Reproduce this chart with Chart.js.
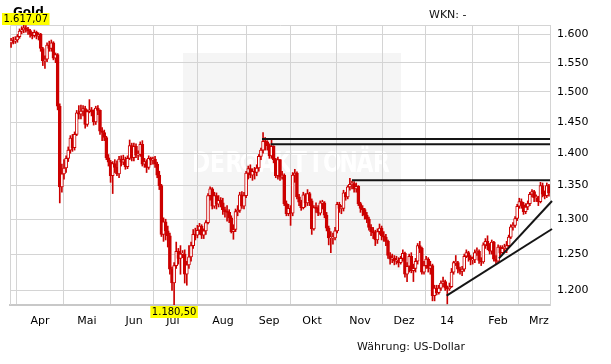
<!DOCTYPE html>
<html><head><meta charset="utf-8">
<script src="https://cdn.jsdelivr.net/npm/chart.js@4.4.0/dist/chart.umd.min.js"></script>
<style>html,body{margin:0;padding:0;background:#fff;overflow:hidden}canvas{display:block}</style>
</head><body>
<canvas id="c" width="611" height="364"></canvas>
<script>
const titleText = 'Gold';
const wknText = 'WKN: -';
const currencyText = 'Währung: US-Dollar';
const watermarkChars = ['D','E','R','','A','K','T','I','O','N','Ä','R'];
const firstOpen = 1585;
const closes = [
 1590,1588,1590,1596,1606,1608,1612,1610,1607,1600,1598,1604,1597,
 1600,1575,1553,1556,1581,1575,1585,1558,1564,1476,1348,1368,1377,1392,1405,1424,1409,1430,1465,1463,1468,1472,
 1446,1467,1470,1468,1450,1473,1469,1435,1433,1425,1393,1386,1365,1384,1378,1368,1391,1386,1390,1379,1392,1412,1393,
 1411,1397,1398,1414,1383,1387,1378,1392,1389,1391,1383,1366,1350,1278,1296,1283,1276,1229,1210,1234,
 1254,1244,1250,1250,1222,1235,1246,1262,1278,1277,1284,1290,1277,1283,1295,1335,1345,1319,1335,1322,1328,1324,1314,
 1311,1310,1302,1282,1285,1311,1313,1336,1319,1335,1369,1376,1366,1372,1370,1377,1395,1405,1419,1418,1412,1396,
 1411,1390,1365,1390,1363,1366,1323,1308,1316,1309,1366,1369,1333,1325,1317,1336,1324,1338,1327,
 1286,1317,1316,1309,1324,1324,1306,1287,1273,1273,1273,1283,1322,1316,1316,1339,1333,1348,1352,1353,1345,1349,1323,
 1316,1314,1306,1300,1288,1282,1280,1270,1282,1287,1276,1274,1268,1248,1243,1244,1240,1241,1238,1244,1251,
 1222,1233,1247,1227,1230,1240,1262,1258,1225,1234,1243,1230,1234,1193,1203,1197,1203,1210,1212,1203,1202,
 1205,1225,1238,1238,1229,1226,1229,1247,1252,1246,1242,1242,1252,1254,1241,1239,1263,1268,1262,1254,1267,1243,1240,
 1260,1252,1258,1258,1262,1274,1289,1291,1301,1319,1326,1321,1311,1318,1323,1337,1341,1332,1332,1326,
 1350,1337,1335,1350,1339
];
const highs = [
 1593,1595,1596,1600,1610,1614,1617.07,1616,1613,1609,1604,1608,1606,
 1603,1602,1577,1562,1585,1588,1590,1587,1567,1566,1480,1383,1390,1396,1410,1428,1430,1434,1469,1477,1478,1477,
 1476,1470,1487,1474,1470,1476,1477,1470,1441,1437,1427,1398,1389,1387,1390,1388,1395,1396,1397,1394,1396,1421,1416,
 1416,1415,1404,1418,1420,1392,1390,1396,1394,1394,1395,1386,1372,1352,1302,1300,1290,1280,1232,1238,
 1267,1258,1262,1255,1256,1240,1262,1267,1285,1287,1291,1294,1292,1286,1298,1338,1348,1347,1340,1339,1335,1332,1331,
 1318,1320,1314,1305,1292,1315,1320,1340,1341,1340,1372,1380,1382,1376,1378,1382,1398,1408,1433,1425,1420,1415,
 1421,1412,1392,1394,1390,1372,1368,1327,1322,1320,1370,1375,1371,1337,1328,1340,1338,1344,1340,
 1330,1320,1324,1320,1327,1328,1326,1310,1290,1282,1280,1288,1325,1325,1320,1343,1340,1350,1361,1357,1356,1354,1350,
 1325,1320,1316,1310,1303,1292,1288,1284,1286,1293,1290,1282,1278,1270,1252,1250,1248,1247,1245,1247,1256,
 1253,1238,1250,1252,1236,1244,1265,1268,1260,1240,1247,1245,1240,1236,1207,1207,1207,1213,1218,1214,1206,
 1210,1230,1240,1248,1240,1232,1233,1250,1256,1254,1248,1246,1256,1259,1256,1245,1266,1272,1276,1265,1270,1268,1248,
 1263,1262,1262,1264,1268,1277,1292,1295,1304,1322,1331,1330,1325,1323,1327,1340,1344,1343,1336,1334,
 1355,1354,1342,1354,1352
];
const lows = [
 1577,1583,1584,1586,1593,1601,1603,1604,1600,1595,1592,1595,1592,
 1590,1570,1545,1540,1552,1570,1570,1555,1550,1470,1324,1340,1360,1370,1387,1400,1403,1405,1428,1455,1455,1460,
 1440,1443,1465,1460,1445,1446,1462,1430,1420,1420,1390,1380,1355,1338,1370,1365,1362,1380,1382,1375,1376,1390,1388,
 1388,1393,1390,1395,1380,1378,1370,1375,1382,1383,1378,1362,1344,1275,1268,1270,1260,1222,1200,1180.5,
 1230,1236,1222,1245,1210,1207,1230,1240,1258,1270,1273,1278,1272,1272,1278,1293,1328,1315,1316,1315,1318,1318,1307,
 1303,1297,1295,1280,1271,1282,1305,1310,1316,1315,1332,1360,1362,1358,1360,1365,1372,1390,1400,1405,1405,1392,
 1392,1385,1362,1360,1358,1360,1320,1305,1305,1291,1305,1355,1330,1320,1313,1315,1318,1320,1320,
 1278,1284,1310,1305,1306,1315,1302,1283,1263,1252,1264,1270,1280,1310,1308,1312,1328,1330,1343,1345,1340,1340,1320,
 1310,1305,1300,1295,1284,1276,1272,1262,1265,1278,1270,1268,1262,1244,1236,1238,1235,1236,1232,1236,1240,
 1218,1212,1225,1224,1212,1225,1236,1252,1222,1222,1230,1225,1222,1186,1186,1194,1195,1200,1205,1200,1182,
 1200,1204,1222,1234,1224,1222,1220,1226,1245,1240,1235,1236,1238,1248,1237,1234,1237,1258,1256,1250,1250,1240,1236,
 1238,1248,1250,1252,1252,1260,1272,1284,1288,1298,1316,1316,1307,1308,1314,1320,1333,1326,1326,1320,
 1324,1333,1330,1332,1334
];
const monthLabels = ['Apr','Mai','Jun','Jul','Aug','Sep','Okt','Nov','Dez','14','Feb','Mrz'];
const monthTickIndex = [13.67,35.86,58.06,76.47,100.08,121.81,142.12,164.79,185.56,205.87,229.94,249.3];
const yTickValues = [1200,1250,1300,1350,1400,1450,1500,1550,1600];
const resistanceFrom = [118.5,122.6,161.0];
const resistanceValue = [1422.6,1414.2,1358.1];
const trendFromX = [205.7,230.4];
const trendFromY = [1192.9,1244.1];
const trendToX = [255.45,255.45];
const trendToY = [1285.8,1326.9];

const N = closes.length;
const opens = closes.map((c,i)=> i===0 ? firstOpen : closes[i-1]);
const yMin = Math.min(...lows), yMax = Math.max(...highs);
const minIdx = lows.indexOf(yMin), maxIdx = highs.indexOf(yMax);
const RED = '#cc0000';
const FONT = '"DejaVu Sans", Verdana, sans-serif';

function fmtDE(v, dec){
  const s = Number(v).toFixed(dec);
  let [a,b] = s.split('.');
  a = a.replace(/\B(?=(\d{3})+(?!\d))/g,'.');
  return b ? a+','+b : a;
}

const bodyData = closes.map((c,i)=>({x:i, y:[opens[i], c]}));
const wickData = closes.map((c,i)=>({x:i, y:[Math.min(lows[i],opens[i],c), Math.max(highs[i],opens[i],c)]}));

const lineSets = [];
resistanceFrom.forEach((f,k)=>{
  lineSets.push({type:'line', data:[{x:f,y:resistanceValue[k]},{x:N-0.5,y:resistanceValue[k]}],
    borderColor:'#151515', borderWidth:2, pointRadius:0, fill:false, clip:false, order:0});
});
trendFromX.forEach((f,k)=>{
  lineSets.push({type:'line', data:[{x:f,y:trendFromY[k]},{x:trendToX[k],y:trendToY[k]}],
    borderColor:'#151515', borderWidth:2, pointRadius:0, fill:false, clip:false, order:0});
});

const decor = {
  id:'decor',
  beforeDraw(chart){
    const ctx = chart.ctx;
    ctx.save();
    ctx.fillStyle = '#fff'; ctx.fillRect(0,0,chart.width,chart.height);
    ctx.fillStyle = '#f5f5f5'; ctx.fillRect(183,53,218,217);
    ctx.fillStyle = '#ffffff';
    ctx.font = 'bold 28px ' + FONT;
    ctx.textBaseline = 'alphabetic'; ctx.textAlign = 'center';
    watermarkChars.forEach((ch,k)=>{
      const cx = 201 + k*16.4;
      if (ch === '') {
        ctx.beginPath(); ctx.arc(cx,162,8,0,Math.PI*2); ctx.lineWidth=3.5; ctx.strokeStyle='#fff'; ctx.stroke();
        ctx.beginPath(); ctx.arc(cx,162,3,0,Math.PI*2); ctx.fill();
      } else {
        ctx.save(); ctx.translate(cx,172); ctx.scale(0.78,1); ctx.fillText(ch,0,0); ctx.restore();
      }
    });
    ctx.restore();
  },
  beforeDatasetsDraw(chart){
    const {ctx, chartArea:a} = chart;
    ctx.save();
    ctx.strokeStyle = '#d4d4d4'; ctx.lineWidth = 1;
    ctx.beginPath();
    ctx.moveTo(a.left+0.5, a.bottom); ctx.lineTo(a.left+0.5, a.top+0.5); ctx.lineTo(a.right, a.top+0.5);
    ctx.stroke();
    ctx.restore();
  },
  afterDraw(chart){
    const {ctx, chartArea:a, scales} = chart;
    ctx.save();
    ctx.fillStyle = '#000';
    ctx.font = 'bold 12px ' + FONT;
    ctx.textBaseline = 'alphabetic'; ctx.textAlign = 'left';
    ctx.fillText(titleText, 13, 16);
    ctx.font = '11px ' + FONT;
    ctx.textBaseline = 'middle';
    ctx.fillStyle = '#111';
    ctx.fillText(wknText, 429, 15);
    ctx.fillText(currencyText, 357, 347);
    ctx.font = '10px ' + FONT;
    const drawTag = (txt, cx, top) => {
      const tw = ctx.measureText(txt).width + 3;
      let left = Math.max(2, cx - tw/2);
      ctx.fillStyle = '#ffff00';
      ctx.fillRect(left, top, tw, 12);
      ctx.fillStyle = '#000';
      ctx.textAlign = 'left';
      ctx.fillText(txt, left + 1.5, top + 6.5);
    };
    drawTag(fmtDE(yMax,2), scales.x.getPixelForValue(maxIdx), a.top - 12);
    drawTag(fmtDE(yMin,2), scales.x.getPixelForValue(minIdx), a.bottom + 1);
    ctx.restore();
  }
};

new Chart(document.getElementById('c'), {
  type:'bar',
  data:{
    datasets:[
      {data:wickData, backgroundColor:RED, borderWidth:0, barThickness:1, grouped:false, order:2},
      {data:bodyData, backgroundColor:(c)=>{const r=c.raw; return (r && r.y[1]>=r.y[0]) ? '#ffffff' : RED;},
       borderColor:RED, borderWidth:1, borderSkipped:false, barThickness:3, minBarLength:1, grouped:false, order:1},
      ...lineSets
    ]
  },
  options:{
    responsive:false, animation:false, devicePixelRatio:1,
    layout:{padding:{left:10, top:25, right:0, bottom:0}},
    plugins:{legend:{display:false}, tooltip:{enabled:false}},
    scales:{
      x:{type:'linear', min:-0.5, max:N-0.5, offset:false,
        afterBuildTicks:(s)=>{ s.ticks = monthTickIndex.map(v=>({value:v})); },
        afterFit:(s)=>{ s.height = 59; },
        ticks:{autoSkip:false, maxRotation:0, minRotation:0, padding:10, color:'#000',
          font:{family:FONT, size:11}, callback:(v,i)=>monthLabels[i]},
        grid:{color:'#d4d4d4', drawTicks:false, lineWidth:1},
        border:{display:true, color:'#c8c8c8', width:2}
      },
      y:{type:'logarithmic', position:'right', min:yMin, max:yMax,
        afterBuildTicks:(s)=>{ s.ticks = yTickValues.map(v=>({value:v})); },
        afterFit:(s)=>{ s.width = 61; },
        ticks:{autoSkip:false, padding:7, color:'#000', font:{family:FONT, size:11},
          callback:(v)=>fmtDE(v,0)},
        grid:{color:'#d4d4d4', drawTicks:false, lineWidth:1},
        border:{display:true, color:'#d4d4d4', width:1}
      }
    }
  },
  plugins:[decor]
});
</script>
</body></html>
